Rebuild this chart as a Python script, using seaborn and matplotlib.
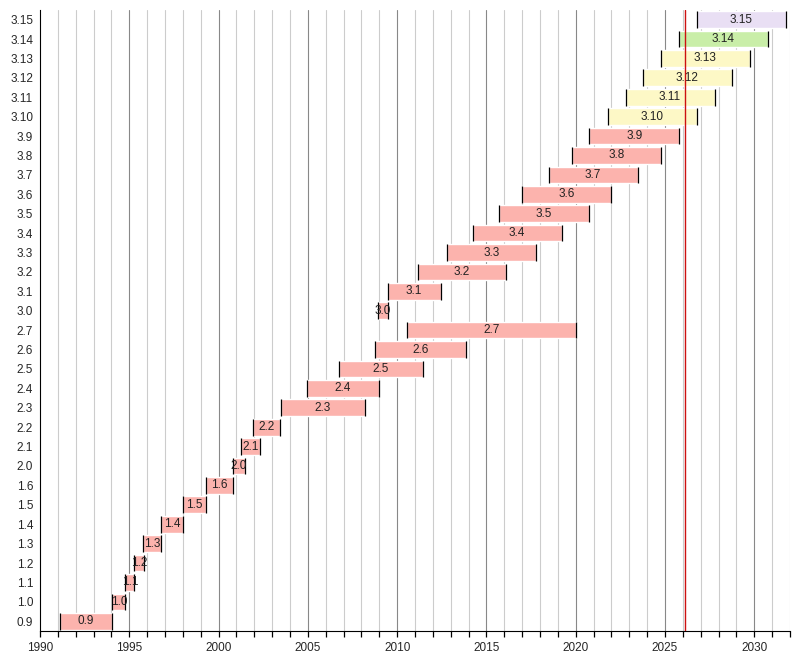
import numpy as np
import pandas as pd
import matplotlib
matplotlib.use("Agg")
import matplotlib.pyplot as plt
import seaborn as sns

# python versions, start / end of support (decimal years)
versions = ['0.9', '1.0', '1.1', '1.2', '1.3', '1.4', '1.5', '1.6',
            '2.0', '2.1', '2.2', '2.3', '2.4', '2.5', '2.6', '2.7',
            '3.0', '3.1', '3.2', '3.3', '3.4', '3.5', '3.6', '3.7',
            '3.8', '3.9', '3.10', '3.11', '3.12', '3.13', '3.14', '3.15']
start = [1991.12, 1994.05, 1994.78, 1995.28, 1995.78, 1996.8, 1998.0, 1999.28,
         2000.79, 2001.28, 2001.93, 2003.5, 2004.94, 2006.73, 2008.75, 2010.54,
         2008.9, 2009.48, 2011.16, 2012.78, 2014.22, 2015.7, 2016.97, 2018.5,
         2019.79, 2020.77, 2021.78, 2022.79, 2023.76, 2024.77, 2025.78, 2026.79]
end = [1994.05, 1994.78, 1995.28, 1995.8, 1996.8, 1998.0, 1999.3, 2000.79,
       2001.47, 2002.3, 2003.44, 2008.2, 2008.97, 2011.42, 2013.83, 2020.0,
       2009.48, 2012.43, 2016.12, 2017.75, 2019.22, 2020.77, 2022.0, 2023.46,
       2024.75, 2025.81, 2026.77, 2027.78, 2028.73, 2029.74, 2030.76, 2031.77]
status = ['eol'] * 26 + ['security'] * 4 + ['bugfix', 'feature']
today = 2026.13

colors = {'eol': '#fcb3ad', 'security': '#fdf8c6', 'bugfix': '#c9eea8', 'feature': '#e9dff4'}

df = pd.DataFrame({'version': versions, 'start': start, 'end': end, 'status': status})
df['pos'] = np.arange(len(df))
df['len'] = df['end'] - df['start']

sns.set_style("white")
plt.rcParams['font.family'] = ['Liberation Sans', 'DejaVu Sans']

fig = plt.figure(figsize=(8, 6.6), dpi=100)
ax = fig.add_axes([0.05, 0.044, 0.9375, 0.941])

# year grid
for yr in range(1991, 2033):
    c = '#888888' if yr % 5 == 0 else '#cccccc'
    ax.axvline(yr, color=c, lw=0.8, zorder=0)

h = 0.86
ax.barh(df['pos'], df['len'], left=df['start'], height=h,
        color=[colors[s] for s in df['status']], zorder=2)
ax.vlines(df['start'], df['pos'] - h / 2, df['pos'] + h / 2, color='black', lw=0.9, zorder=3)
ax.vlines(df['end'], df['pos'] - h / 2, df['pos'] + h / 2, color='black', lw=0.9, zorder=3)
for _, r in df.iterrows():
    ax.text((r['start'] + r['end']) / 2, r['pos'], r['version'], ha='center', va='center',
            fontsize=8.5, color='#222222', zorder=4)

ax.axvline(today, color='#cc1111', lw=1, zorder=5)

ax.set_xlim(1990, 2032)
ax.set_ylim(-0.5, len(df) - 0.5)
ax.set_yticks(df['pos'])
ax.set_yticklabels(df['version'], fontsize=8.5)
ax.set_xticks(range(1990, 2031, 5))
ax.set_xticks(range(1990, 2033), minor=True)
ax.tick_params(axis='x', which='both', length=4, width=0.9, labelsize=8.5, color='black',
               direction='out', bottom=True, pad=4)
ax.tick_params(axis='y', length=0, pad=5)
for s in ['top', 'right']:
    ax.spines[s].set_visible(False)
ax.spines['left'].set_color('black')
ax.spines['bottom'].set_color('black')

fig.savefig('out.png', dpi=100)
